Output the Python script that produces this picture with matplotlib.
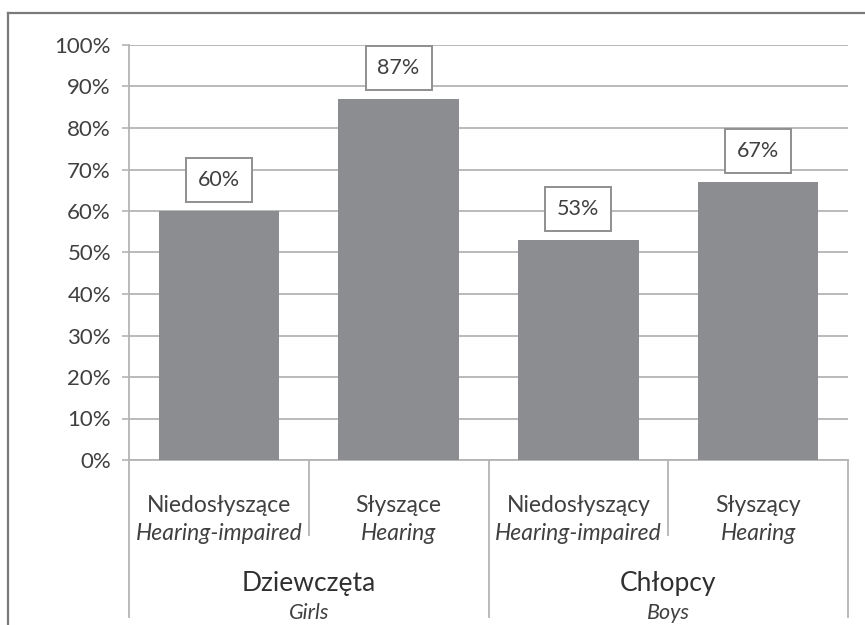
import matplotlib
matplotlib.use("Agg")
import matplotlib.pyplot as plt
from matplotlib.lines import Line2D

plt.rcParams['font.family'] = ['Lato', 'DejaVu Sans']

categories_pl = ["Niedosłyszące", "Słyszące", "Niedosłyszący", "Słyszący"]
categories_en = ["Hearing-impaired", "Hearing", "Hearing-impaired", "Hearing"]
groups_pl = ["Dziewczęta", "Chłopcy"]
groups_en = ["Girls", "Boys"]
values = [60, 87, 53, 67]
yticks = [0, 10, 20, 30, 40, 50, 60, 70, 80, 90, 100]

W, H = 865, 625
fig = plt.figure(figsize=(W / 100, H / 100), dpi=100)
fig.patch.set_facecolor('white')

def px2pt(p):
    return p * 72 / 100

ax = fig.add_axes([129 / W, 1 - 460 / H, (848 - 129) / W, (460 - 45) / H])
text_c = '#404040'
grid_c = '#b4b4b4'
bar_c = '#8c8d91'

x = list(range(len(values)))
ax.bar(x, values, width=0.67, color=bar_c, zorder=3)
ax.set_xlim(-0.5, len(values) - 0.5)
ax.set_ylim(0, 100)
ax.set_yticks(yticks)
ax.set_yticklabels([f"{v}%" for v in yticks], fontsize=16, color=text_c)
ax.yaxis.grid(True, color=grid_c, linewidth=1.3, zorder=0)
ax.tick_params(axis='y', length=5, width=1.2, color=grid_c, pad=8)
ax.set_xticks([])
for s in ['top', 'right']:
    ax.spines[s].set_visible(False)
ax.spines['left'].set_color(grid_c)
ax.spines['left'].set_linewidth(1.3)
ax.spines['bottom'].set_color(grid_c)
ax.spines['bottom'].set_linewidth(1.3)

# value labels
for xi, v in zip(x, values):
    ax.annotate(f"{v}%", xy=(xi, v), xytext=(0, px2pt(31)), textcoords='offset points',
                ha='center', va='center', fontsize=15.5, color=text_c, zorder=5,
                bbox=dict(boxstyle='square,pad=0.55', fc='white', ec='#8f8f8f', lw=1.4))

# category dividers
trans = ax.get_xaxis_transform()
axh = 460 - 45
n = len(values)
for i in range(n + 1):
    xb = i - 0.5
    depth = 157 if i % 2 == 0 else 75
    ax.plot([xb, xb], [0, -depth / axh], transform=trans, color=grid_c, lw=1.3,
            clip_on=False)

# category labels
for xi, pl, en in zip(x, categories_pl, categories_en):
    ax.annotate(pl, xy=(xi, 0), xycoords=trans, xytext=(0, -px2pt(46)),
                textcoords='offset points', ha='center', va='center',
                fontsize=16.5, color=text_c, annotation_clip=False)
    ax.annotate(en, xy=(xi, 0), xycoords=trans, xytext=(0, -px2pt(74)),
                textcoords='offset points', ha='center', va='center',
                fontsize=16.5, style='italic', color=text_c, annotation_clip=False)

for gi, (gpl, gen) in enumerate(zip(groups_pl, groups_en)):
    gx = 2 * gi + 0.5
    ax.annotate(gpl, xy=(gx, 0), xycoords=trans, xytext=(0, -px2pt(123)),
                textcoords='offset points', ha='center', va='center',
                fontsize=19, color='#303030', annotation_clip=False)
    ax.annotate(gen, xy=(gx, 0), xycoords=trans, xytext=(0, -px2pt(153)),
                textcoords='offset points', ha='center', va='center',
                fontsize=15.5, style='italic', color=text_c, annotation_clip=False)

# outer frame (left and top edges visible)
fig.add_artist(Line2D([8 / W, 8 / W], [0, 1 - 13 / H], color='#7a7a7a', lw=1.6))
fig.add_artist(Line2D([8 / W, 1], [1 - 13 / H, 1 - 13 / H], color='#7a7a7a', lw=1.6))

fig.savefig("out.png", dpi=100, facecolor='white')
